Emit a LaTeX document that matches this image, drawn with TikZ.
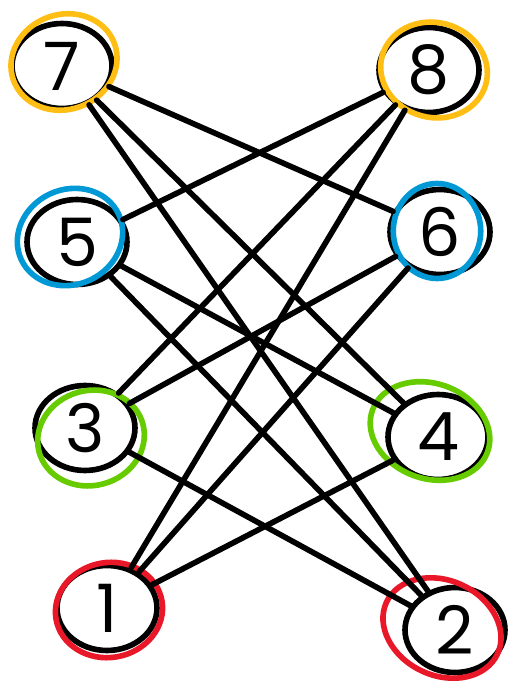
\documentclass[tikz,border=0pt]{standalone}
\usepackage{fontspec}
\setsansfont{Poppins}
\usetikzlibrary{shapes.geometric}
\definecolor{ringorange}{HTML}{FFBE14}
\definecolor{ringblue}{HTML}{0099D6}
\definecolor{ringgreen}{HTML}{66CC00}
\definecolor{ringred}{HTML}{E81829}
\tikzset{
  vertex/.style={ellipse, draw=black, line width=3.2pt, minimum width=2cm, minimum height=1.7cm,
    inner sep=0pt, font=\sffamily\fontsize{38}{38}\selectfont},
  ring/.style={ellipse, draw=#1, line width=3.2pt, minimum width=2.15cm, minimum height=1.9cm},
  link/.style={line width=3.2pt, line cap=round}
}
\begin{document}
\begin{tikzpicture}[x=0.02cm, y=-0.02cm]
  \useasboundingbox (0,0) rectangle (509,685);
  % left column
  \node[vertex] (v7) at (62,66) {7};
  \node[vertex] (v5) at (77,242) {5};
  \node[vertex] (v3) at (85,428) {3};
  \node[vertex] (v1) at (107,608) {1};
  % right column
  \node[vertex] (v8) at (429,70) {8};
  \node[vertex] (v6) at (440,232) {6};
  \node[vertex] (v4) at (438,437) {4};
  \node[vertex] (v2) at (455,630) {2};
  % colored rings
  \node[ring=ringorange, rotate=20] at (64,62) {};
  \node[ring=ringorange, rotate=-15] at (434,70) {};
  \node[ring=ringblue, rotate=25] at (70,237) {};
  \node[ring=ringblue, minimum width=1.75cm] at (437,231) {};
  \node[ring=ringgreen, rotate=15] at (91,438) {};
  \node[ring=ringgreen, rotate=-20, minimum width=2.45cm] at (430,431) {};
  \node[ring=ringred, rotate=10] at (109,610) {};
  \node[ring=ringred, rotate=-25, minimum width=2.45cm] at (442,628) {};
  % edges
  \foreach \a/\b in {7/6,7/4,7/2,5/8,5/4,5/2,3/8,3/6,3/2,1/8,1/6,1/4}
    \draw[link] (v\a) -- (v\b);
\end{tikzpicture}
\end{document}
